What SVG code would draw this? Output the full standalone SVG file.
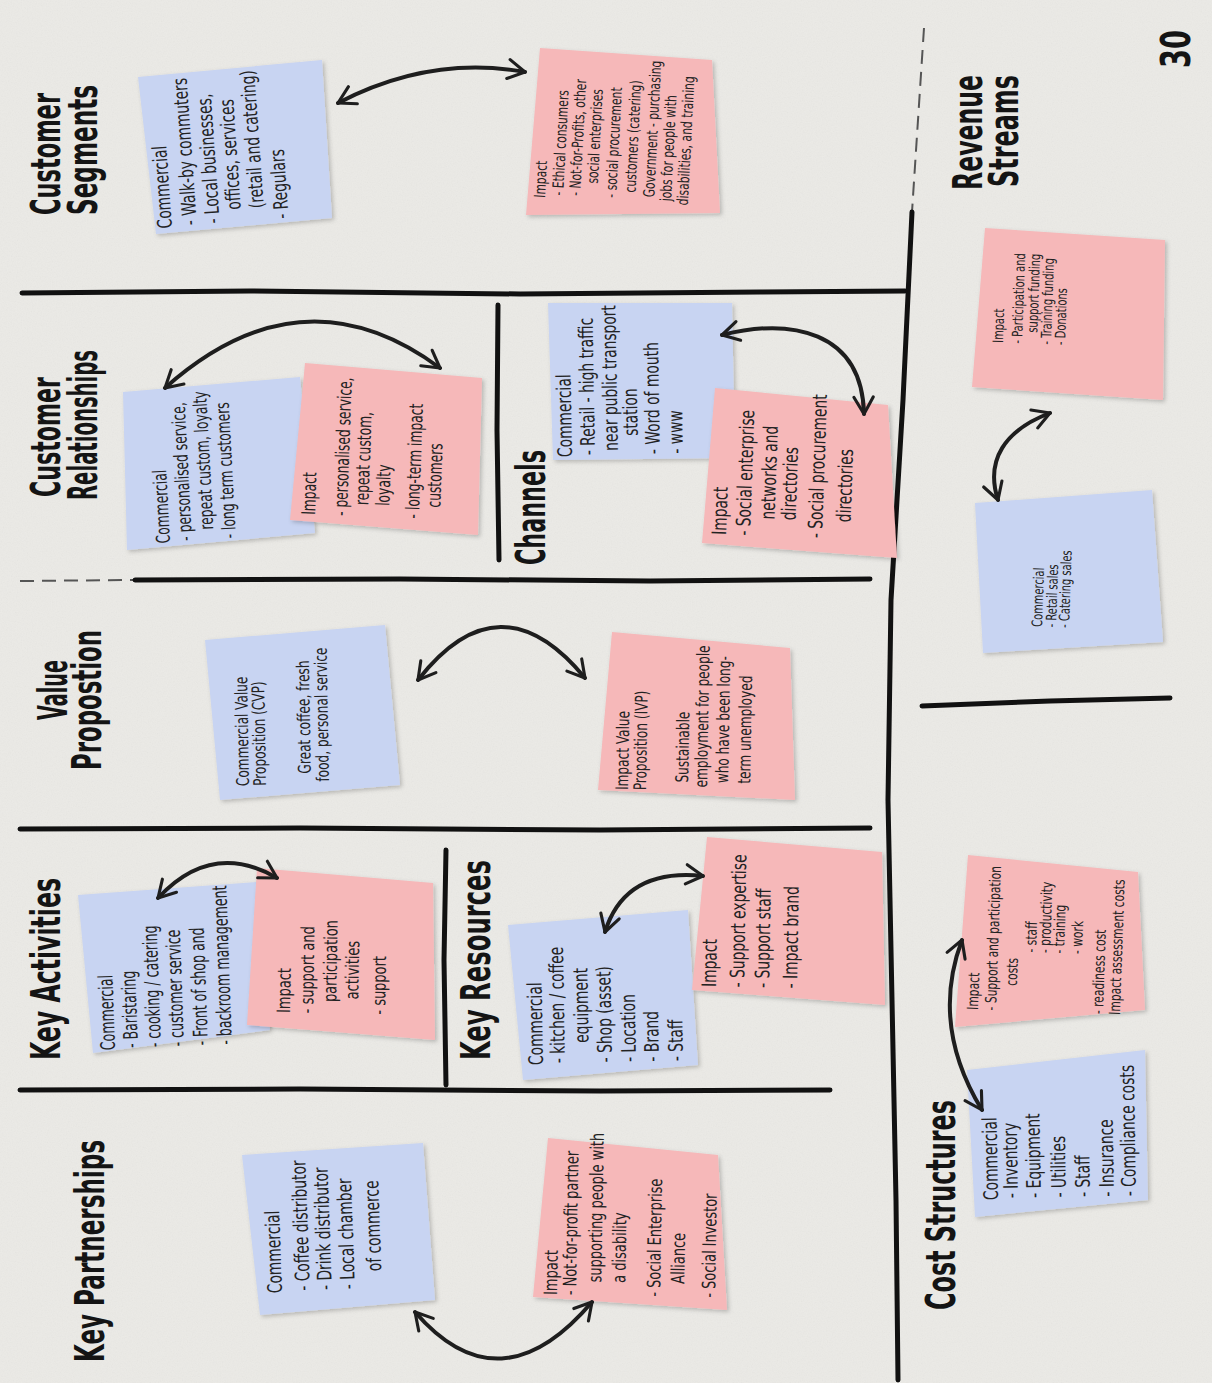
<svg xmlns="http://www.w3.org/2000/svg" width="1212" height="1383" viewBox="0 0 1212 1383">
<defs>
<style>
.paper{fill:#ebeae6}
.blue{fill:#c8d4f2}
.pink{fill:#f6b8b9}
.note{filter:url(#sh)}
.hw{font-family:'Liberation Sans Narrow','DejaVu Sans Condensed',sans-serif;fill:#222}
.title{font-family:'Liberation Sans Narrow','DejaVu Sans Condensed',sans-serif;font-weight:bold;font-size:40px;fill:#141414}
.div{stroke:#111;stroke-width:5;fill:none;stroke-linecap:round;stroke-linejoin:round}
.faint{stroke:#555;stroke-width:2;fill:none;stroke-dasharray:14 8}
.arr{stroke:#1e1e1e;stroke-width:4;fill:none;stroke-linecap:round;marker-start:url(#ah);marker-end:url(#ah)}
</style>
<marker id="ah" viewBox="0 0 10 10" refX="8.5" refY="5" markerWidth="6" markerHeight="6" orient="auto-start-reverse" markerUnits="strokeWidth">
<path d="M1.5,1 L8.5,5 L1.5,9" fill="none" stroke="#1e1e1e" stroke-width="1.3" stroke-linecap="round" stroke-linejoin="round"/>
</marker>
<filter id="sh" x="-10%" y="-10%" width="130%" height="130%">
<feDropShadow dx="2" dy="2" stdDeviation="2" flood-color="#000" flood-opacity="0.22"/>
</filter>
<filter id="grain" x="0" y="0" width="100%" height="100%">
<feTurbulence type="fractalNoise" baseFrequency="0.8" numOctaves="2" seed="4"/>
<feColorMatrix type="saturate" values="0"/>
</filter>
</defs>

<rect class="paper" x="0" y="0" width="1212" height="1383"/>
<rect x="0" y="0" width="1212" height="1383" filter="url(#grain)" opacity="0.08"/>

<g id="dividers">
<path class="div" d="M22,293 L250,291 L520,294 L760,292 L905,291"/>
<path class="faint" d="M20,581 L135,580"/>
<path class="div" d="M135,580 L400,579 L650,581 L870,579"/>
<path class="div" d="M20,829 L300,828 L600,830 L870,828"/>
<path class="div" d="M20,1090 L300,1089 L600,1091 L830,1090"/>
<path class="div" d="M498,305 L497,430 L499,560"/>
<path class="div" d="M446,850 L444,960 L446,1085"/>
<path class="faint" d="M924,28 L912,212"/>
<path class="div" d="M912,212 L903,400 L891,600 L888,800 L892,1000 L896,1200 L898,1380"/>
<path class="div" d="M922,706 L1050,701 L1170,698"/>
</g>

<g id="titles">
<text class="title" transform="translate(60,215) rotate(-90)" textLength="122" lengthAdjust="spacingAndGlyphs">Customer</text>
<text class="title" transform="translate(97,215) rotate(-90)" textLength="130" lengthAdjust="spacingAndGlyphs">Segments</text>
<text class="title" transform="translate(60,497) rotate(-90)" textLength="120" lengthAdjust="spacingAndGlyphs">Customer</text>
<text class="title" transform="translate(97,500) rotate(-90)" textLength="150" lengthAdjust="spacingAndGlyphs">Relationships</text>
<text class="title" transform="translate(67,720) rotate(-90)" textLength="60" lengthAdjust="spacingAndGlyphs">Value</text>
<text class="title" transform="translate(101,770) rotate(-90)" textLength="140" lengthAdjust="spacingAndGlyphs">Propostion</text>
<text class="title" transform="translate(60,1060) rotate(-90)" textLength="182" lengthAdjust="spacingAndGlyphs">Key Activities</text>
<text class="title" transform="translate(104,1362) rotate(-90)" textLength="222" lengthAdjust="spacingAndGlyphs">Key Partnerships</text>
<text class="title" transform="translate(545,565) rotate(-90)" textLength="115" lengthAdjust="spacingAndGlyphs">Channels</text>
<text class="title" transform="translate(490,1060) rotate(-90)" textLength="200" lengthAdjust="spacingAndGlyphs">Key Resources</text>
<text class="title" transform="translate(982,190) rotate(-90)" textLength="115" lengthAdjust="spacingAndGlyphs">Revenue</text>
<text class="title" transform="translate(1018,187) rotate(-90)" textLength="112" lengthAdjust="spacingAndGlyphs">Streams</text>
<text class="title" transform="translate(955,1310) rotate(-90)" textLength="210" lengthAdjust="spacingAndGlyphs">Cost Structures</text>
<text class="title" transform="translate(1190,68) rotate(-90)" textLength="38" lengthAdjust="spacingAndGlyphs">30</text>
</g>

<g id="cs-commercial">
<polygon class="note blue" points="138,77 322,60 332,218 156,234"/>
<g class="hw" font-size="20" transform="translate(172,228) rotate(-94) scale(0.77,1)">
<text x="0" y="0">Commercial</text>
<text x="2" y="25">- Walk-by commuters</text>
<text x="2" y="48">- Local businesses,</text>
<text x="18" y="70">offices, services</text>
<text x="18" y="93">(retail and catering)</text>
<text x="2" y="117">- Regulars</text>
</g>
</g>

<g id="cs-impact">
<polygon class="note pink" points="540,48 712,60 720,213 526,215"/>
<g class="hw" font-size="15.5" transform="translate(545,198) rotate(-87) scale(0.77,1)">
<text x="0" y="0">Impact</text>
<text x="4" y="18">- Ethical consumers</text>
<text x="5" y="35">- Not-for-Profits, other</text>
<text x="22" y="52">social enterprises</text>
<text x="5" y="71">- social procurement</text>
<text x="13" y="90">customers (catering)</text>
<text x="8" y="109">Government - purchasing</text>
<text x="4" y="126">jobs for people with</text>
<text x="0" y="143">disabilities, and training</text>
</g>
</g>

<g id="cr-commercial">
<polygon class="note blue" points="123,392 300,377 315,533 127,550"/>
<g class="hw" font-size="19" transform="translate(170,543) rotate(-93) scale(0.72,1)">
<text x="0" y="0">Commercial</text>
<text x="2" y="22">- personalised service,</text>
<text x="16" y="44">repeat custom, loyalty</text>
<text x="2" y="66">- long term customers</text>
</g>
</g>

<g id="cr-impact">
<polygon class="note pink" points="305,363 482,378 478,535 290,520"/>
<g class="hw" font-size="19" transform="translate(315,515) rotate(-88) scale(0.72,1)">
<text x="0" y="0">Impact</text>
<text x="0" y="32">- personalised service,</text>
<text x="16" y="53">repeat custom,</text>
<text x="16" y="74">loyalty</text>
<text x="0" y="104">- long-term impact</text>
<text x="16" y="125">customers</text>
</g>
</g>

<g id="ch-commercial">
<polygon class="note blue" points="548,303 732,303 735,458 553,460"/>
<g class="hw" font-size="20" transform="translate(572,457) rotate(-91) scale(0.77,1)">
<text x="0" y="0">Commercial</text>
<text x="2" y="23">- Retail - high traffic</text>
<text x="7" y="46">near public transport</text>
<text x="26" y="66">station</text>
<text x="2" y="88">- Word of mouth</text>
<text x="2" y="111">- www</text>
</g>
</g>

<g id="ch-impact">
<polygon class="note pink" points="715,388 888,405 897,558 702,543"/>
<g class="hw" font-size="20" transform="translate(726,535) rotate(-88) scale(0.77,1)">
<text x="0" y="0">Impact</text>
<text x="0" y="24">- Social enterprise</text>
<text x="22" y="48">networks and</text>
<text x="22" y="69">directories</text>
<text x="0" y="96">- Social procurement</text>
<text x="22" y="124">directories</text>
</g>
</g>

<g id="vp-commercial">
<polygon class="note blue" points="205,640 385,625 400,785 220,800"/>
<g class="hw" font-size="17.5" transform="translate(249,786) rotate(-91) scale(0.77,1)">
<text x="0" y="0">Commercial Value</text>
<text x="0" y="17">Proposition (CVP)</text>
<text x="15" y="62">Great coffee, fresh</text>
<text x="4" y="80">food, personal service</text>
</g>
</g>

<g id="vp-impact">
<polygon class="note pink" points="612,632 790,648 795,800 598,790"/>
<g class="hw" font-size="17.5" transform="translate(628,790) rotate(-89) scale(0.77,1)">
<text x="0" y="0">Impact Value</text>
<text x="0" y="18">Proposition (IVP)</text>
<text x="11" y="60">Sustainable</text>
<text x="5" y="79">employment for people</text>
<text x="11" y="100">who have been long-</text>
<text x="11" y="122">term unemployed</text>
</g>
</g>

<g id="ka-commercial">
<polygon class="note blue" points="78,895 257,882 270,1030 93,1053"/>
<g class="hw" font-size="20" transform="translate(115,1050) rotate(-92) scale(0.7,1)">
<text x="0" y="0">Commercial</text>
<text x="2" y="23">- Baristaring</text>
<text x="2" y="46">- cooking / catering</text>
<text x="2" y="69">- customer service</text>
<text x="2" y="93">- Front of shop and</text>
<text x="2" y="117">- backroom management</text>
</g>
</g>

<g id="ka-impact">
<polygon class="note pink" points="257,868 433,883 435,1040 247,1025"/>
<g class="hw" font-size="18.5" transform="translate(290,1013) rotate(-89) scale(0.78,1)">
<text x="0" y="0">Impact</text>
<text x="0" y="23">- support and</text>
<text x="15" y="46">participation</text>
<text x="19" y="68">activities</text>
<text x="0" y="95">- support</text>
</g>
</g>

<g id="kr-commercial">
<polygon class="note blue" points="508,925 688,910 698,1065 523,1080"/>
<g class="hw" font-size="20" transform="translate(543,1065) rotate(-91) scale(0.77,1)">
<text x="0" y="0">Commercial</text>
<text x="2" y="22">- kitchen / coffee</text>
<text x="28" y="46">equipment</text>
<text x="2" y="69">- Shop (asset)</text>
<text x="2" y="93">- Location</text>
<text x="2" y="116">- Brand</text>
<text x="2" y="140">- Staff</text>
</g>
</g>

<g id="kr-impact">
<polygon class="note pink" points="707,837 882,852 885,1005 692,990"/>
<g class="hw" font-size="20" transform="translate(716,987) rotate(-89) scale(0.77,1)">
<text x="0" y="0">Impact</text>
<text x="0" y="28">- Support expertise</text>
<text x="0" y="53">- Support staff</text>
<text x="0" y="81">- Impact brand</text>
</g>
</g>

<g id="kp-commercial">
<polygon class="note blue" points="242,1155 423,1143 435,1300 260,1315"/>
<g class="hw" font-size="20" transform="translate(282,1293) rotate(-92) scale(0.77,1)">
<text x="0" y="0">Commercial</text>
<text x="2" y="28">- Coffee distributor</text>
<text x="2" y="50">- Drink distributor</text>
<text x="2" y="73">- Local chamber</text>
<text x="24" y="100">of commerce</text>
</g>
</g>

<g id="kp-impact">
<polygon class="note pink" points="548,1138 718,1155 727,1310 533,1297"/>
<g class="hw" font-size="18.5" transform="translate(557,1295) rotate(-89) scale(0.78,1)">
<text x="0" y="0">Impact</text>
<text x="0" y="19">- Not-for-profit partner</text>
<text x="17" y="44">supporting people with</text>
<text x="17" y="68">a disability</text>
<text x="0" y="103">- Social Enterprise</text>
<text x="17" y="127">Alliance</text>
<text x="0" y="158">- Social Investor</text>
</g>
</g>

<g id="rs-impact">
<polygon class="note pink" points="985,228 1165,240 1163,400 972,387"/>
<g class="hw" font-size="14.5" transform="translate(1003,343) rotate(-88) scale(0.76,1)">
<text x="0" y="0">Impact</text>
<text x="0" y="19">- Participation and</text>
<text x="15" y="34">support funding</text>
<text x="0" y="48">- Training funding</text>
<text x="0" y="62">- Donations</text>
</g>
</g>

<g id="rs-commercial">
<polygon class="note blue" points="975,503 1152,490 1163,642 983,653"/>
<g class="hw" font-size="14.5" transform="translate(1042,627) rotate(-88) scale(0.76,1)">
<text x="0" y="0">Commercial</text>
<text x="0" y="14">- Retail sales</text>
<text x="0" y="27">- Catering sales</text>
</g>
</g>

<g id="cost-impact">
<polygon class="note pink" points="968,855 1138,872 1145,1010 955,1027"/>
<g class="hw" font-size="15.5" transform="translate(978,1010) rotate(-88) scale(0.77,1)">
<text x="0" y="0">Impact</text>
<text x="0" y="18">- Support and participation</text>
<text x="33" y="38">costs</text>
<text x="77" y="56">- staff</text>
<text x="77" y="70">- productivity</text>
<text x="77" y="84">- training</text>
<text x="77" y="102">- work</text>
<text x="0" y="125">- readiness cost</text>
<text x="0" y="142">Impact assessment costs</text>
</g>
</g>

<g id="cost-commercial">
<polygon class="note blue" points="967,1070 1145,1050 1148,1200 975,1217"/>
<g class="hw" font-size="20" transform="translate(998,1200) rotate(-91) scale(0.77,1)">
<text x="0" y="0">Commercial</text>
<text x="2" y="20">- Inventory</text>
<text x="2" y="43">- Equipment</text>
<text x="2" y="68">- Utilities</text>
<text x="2" y="92">- Staff</text>
<text x="2" y="116">- Insurance</text>
<text x="2" y="138">- Compliance costs</text>
</g>
</g>

<g id="connectors">
<path class="arr" d="M338,103 Q430,55 525,72"/>
<path class="arr" d="M165,388 Q302,266 440,368"/>
<path class="arr" d="M722,335 C790,318 862,330 864,414"/>
<path class="arr" d="M418,680 Q500,575 585,678"/>
<path class="arr" d="M158,898 Q212,840 277,878"/>
<path class="arr" d="M605,932 Q625,868 703,876"/>
<path class="arr" d="M415,1312 Q500,1410 592,1302"/>
<path class="arr" d="M998,500 C985,460 1005,430 1050,413"/>
<path class="arr" d="M962,940 Q930,1025 982,1110"/>
</g>
</svg>
